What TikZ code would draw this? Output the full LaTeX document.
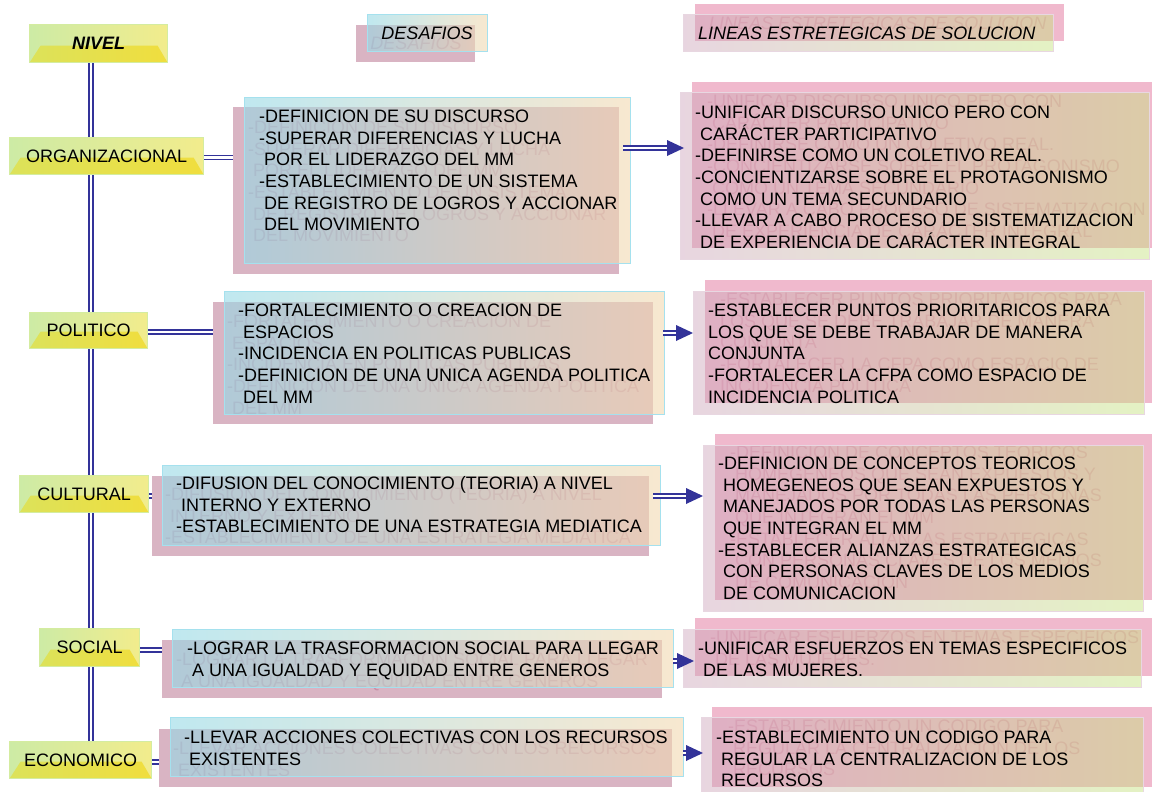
\documentclass[tikz,border=0pt]{standalone}
\usepackage{fontspec}
\setmainfont{Liberation Sans}
\usetikzlibrary{calc}
\definecolor{dblue}{RGB}{51,51,153}
\definecolor{mshadow}{RGB}{217,180,195}
\definecolor{mghost}{RGB}{200,145,168}
\definecolor{mfl}{RGB}{150,217,230}
\definecolor{mfr}{RGB}{243,217,177}
\definecolor{mborder}{RGB}{165,225,238}
\definecolor{rshadow}{RGB}{240,185,205}
\definecolor{rghost}{RGB}{228,155,182}
\definecolor{rfl}{RGB}{204,164,187}
\definecolor{rfr}{RGB}{196,227,124}
\definecolor{rborder}{RGB}{232,215,225}
\definecolor{lbl1}{RGB}{205,235,165}
\definecolor{lbl2}{RGB}{242,236,140}
\definecolor{lbt1}{RGB}{220,226,90}
\definecolor{lbt2}{RGB}{240,222,62}
\definecolor{lbborder}{RGB}{212,236,160}
\newcommand\myfs{\rule{0pt}{14pt}}
\newcommand\myin{\hspace*{5pt}}
\begin{document}
\begin{tikzpicture}[x=1pt,y=-1pt,
  dline/.style={draw=dblue, double=white, double distance=2.3pt, line width=1.6pt},
  ahead/.style={fill=dblue},
  lbl/.style={anchor=north west, inner sep=0pt, draw=lbborder, line width=1.2pt,
    left color=lbl1, right color=lbl2, font=\fontsize{18}{21.6}\selectfont,
    path picture={\shade[left color=lbt1,right color=lbt2]
      (path picture bounding box.south west) -- (path picture bounding box.south east)
      -- ([xshift=-10pt,yshift=17pt]path picture bounding box.south east)
      -- ([xshift=11pt,yshift=17pt]path picture bounding box.south west) -- cycle;}},
  mshad/.style={anchor=north west, inner sep=0pt, fill=mshadow},
  mfront/.style={anchor=north west, inner sep=0pt, left color=mfl, right color=mfr,
    fill opacity=0.6, draw=mborder, draw opacity=1, line width=1.3pt},
  rshad/.style={anchor=north west, inner sep=0pt, fill=rshadow},
  rfront/.style={anchor=north west, inner sep=0pt, left color=rfl, right color=rfr,
    fill opacity=0.45, draw=rborder, draw opacity=1, line width=1pt},
  mtxt/.style={anchor=north west, inner sep=0pt, align=left, font=\fontsize{18}{21.6}\selectfont},
  htxt/.style={anchor=base, inner sep=0pt, font=\fontsize{18}{21.6}\selectfont\itshape},
  ghostm/.style={text=mghost},
  ghostr/.style={text=rghost}
]
\fill[white] (0,0) rectangle (1152,792);
\useasboundingbox (0,0) rectangle (1152,792);

% ---------- spine ----------
\coordinate (sptop) at (91,62);
\coordinate (spbot) at (91,741);
\draw[dline] (sptop) -- (spbot);

% ---------- headers ----------
\node[mshad, minimum width=119pt, minimum height=37pt] (hds) at (356,25) {};
\node[htxt, ghostm] (hdg) at (416,50) {DESAFIOS};
\node[mfront, minimum width=120pt, minimum height=37pt] (hdf) at (367,14) {};
\node[htxt] (hdt) at (427,39.5) {DESAFIOS};

\node[rshad, minimum width=369pt, minimum height=37pt] (hls) at (695,4) {};
\node[htxt, ghostr, anchor=base west] (hlg) at (709,29.5) {LINEAS ESTRETEGICAS DE SOLUCION};
\node[rfront, minimum width=370pt, minimum height=37pt] (hlf) at (683,14) {};
\node[htxt, anchor=base west] (hlt) at (698,39.5) {LINEAS ESTRETEGICAS DE SOLUCION};

% ---------- label boxes ----------
\node[lbl, minimum width=138pt, minimum height=38pt, font=\fontsize{18}{21.6}\selectfont\bfseries\itshape] (lniv) at (29,24) {NIVEL};
\node[lbl, minimum width=194pt, minimum height=37pt] (lorg) at (9,137) {ORGANIZACIONAL};
\node[lbl, minimum width=118pt, minimum height=36pt] (lpol) at (29,312) {POLITICO};
\node[lbl, minimum width=129pt, minimum height=37pt] (lcul) at (19,475) {CULTURAL};
\node[lbl, minimum width=100pt, minimum height=38pt] (lsoc) at (39,628) {SOCIAL};
\node[lbl, minimum width=142pt, minimum height=37pt] (leco) at (9,741) {ECONOMICO};

% ---------- middle boxes ----------
\node[mshad, minimum width=386pt, minimum height=167pt] (msorg) at (233,107) {};
\node[mshad, minimum width=440pt, minimum height=122pt] (mspol) at (213,302) {};
\node[mshad, minimum width=497pt, minimum height=80pt] (mscul) at (152,476) {};
\node[mshad, minimum width=500pt, minimum height=58pt] (mssoc) at (162,640) {};
\node[mshad, minimum width=513pt, minimum height=58pt] (mseco) at (159,729) {};

\node[mtxt, ghostm] (mgorg) at (248,119.45) {\myfs-DEFINICION DE SU DISCURSO\\-SUPERAR DIFERENCIAS Y LUCHA\\\myin POR EL LIDERAZGO DEL MM\\-ESTABLECIMIENTO DE UN SISTEMA\\\myin DE REGISTRO DE LOGROS Y ACCIONAR\\\myin DEL MOVIMIENTO};
\node[mtxt, ghostm] (mgpol) at (227,313.45) {\myfs-FORTALECIMIENTO O CREACION DE\\\myin ESPACIOS\\-INCIDENCIA EN POLITICAS PUBLICAS\\-DEFINICION DE UNA UNICA AGENDA POLITICA\\\myin DEL MM};
\node[mtxt, ghostm] (mgcul) at (165,486.45) {\myfs-DIFUSION DEL CONOCIMIENTO (TEORIA) A NIVEL\\\myin INTERNO Y EXTERNO\\-ESTABLECIMIENTO DE UNA ESTRATEGIA MEDIATICA};
\node[mtxt, ghostm] (mgsoc) at (176,651.45) {\myfs-LOGRAR LA TRASFORMACION SOCIAL PARA LLEGAR\\\myin A UNA IGUALDAD Y EQUIDAD ENTRE GENEROS};
\node[mtxt, ghostm] (mgeco) at (173,740.45) {\myfs-LLEVAR ACCIONES COLECTIVAS CON LOS RECURSOS\\\myin EXISTENTES};

\node[mfront, minimum width=386pt, minimum height=166pt] (mforg) at (244,97) {};
\node[mfront, minimum width=440pt, minimum height=123pt] (mfpol) at (224,291) {};
\node[mfront, minimum width=498pt, minimum height=80pt] (mfcul) at (162,465) {};
\node[mfront, minimum width=501pt, minimum height=58pt] (mfsoc) at (172,629) {};
\node[mfront, minimum width=513pt, minimum height=59pt] (mfeco) at (170,717) {};

\node[mtxt] (mtorg) at (259,108.45) {\myfs-DEFINICION DE SU DISCURSO\\-SUPERAR DIFERENCIAS Y LUCHA\\\myin POR EL LIDERAZGO DEL MM\\-ESTABLECIMIENTO DE UN SISTEMA\\\myin DE REGISTRO DE LOGROS Y ACCIONAR\\\myin DEL MOVIMIENTO};
\node[mtxt] (mtpol) at (238,302.45) {\myfs-FORTALECIMIENTO O CREACION DE\\\myin ESPACIOS\\-INCIDENCIA EN POLITICAS PUBLICAS\\-DEFINICION DE UNA UNICA AGENDA POLITICA\\\myin DEL MM};
\node[mtxt] (mtcul) at (176,475.45) {\myfs-DIFUSION DEL CONOCIMIENTO (TEORIA) A NIVEL\\\myin INTERNO Y EXTERNO\\-ESTABLECIMIENTO DE UNA ESTRATEGIA MEDIATICA};
\node[mtxt] (mtsoc) at (187,640.45) {\myfs-LOGRAR LA TRASFORMACION SOCIAL PARA LLEGAR\\\myin A UNA IGUALDAD Y EQUIDAD ENTRE GENEROS};
\node[mtxt] (mteco) at (184,729.45) {\myfs-LLEVAR ACCIONES COLECTIVAS CON LOS RECURSOS\\\myin EXISTENTES};

% ---------- right boxes ----------
\node[rshad, minimum width=470pt, minimum height=166pt] (rsorg) at (692,82) {};
\node[rshad, minimum width=460pt, minimum height=123pt] (rspol) at (705,280) {};
\node[rshad, minimum width=450pt, minimum height=166pt] (rscul) at (715,434) {};
\node[rshad, minimum width=470pt, minimum height=58pt] (rssoc) at (695,618) {};
\node[rshad, minimum width=450pt, minimum height=80pt] (rseco) at (712,707) {};

\node[mtxt, ghostr] (rgorg) at (707,93.45) {\myfs-UNIFICAR DISCURSO UNICO PERO CON\\\myin CARÁCTER PARTICIPATIVO\\-DEFINIRSE COMO UN COLETIVO REAL.\\-CONCIENTIZARSE SOBRE EL PROTAGONISMO\\\myin COMO UN TEMA SECUNDARIO\\-LLEVAR A CABO PROCESO DE SISTEMATIZACION\\\myin DE EXPERIENCIA DE CARÁCTER INTEGRAL};
\node[mtxt, ghostr] (rgpol) at (720,291.45) {\myfs-ESTABLECER PUNTOS PRIORITARICOS PARA\\LOS QUE SE DEBE TRABAJAR DE MANERA\\CONJUNTA\\-FORTALECER LA CFPA COMO ESPACIO DE\\INCIDENCIA POLITICA};
\node[mtxt, ghostr] (rgcul) at (730,444.45) {\myfs-DEFINICION DE CONCEPTOS TEORICOS\\\myin HOMEGENEOS QUE SEAN EXPUESTOS Y\\\myin MANEJADOS POR TODAS LAS PERSONAS\\\myin QUE INTEGRAN EL MM\\-ESTABLECER ALIANZAS ESTRATEGICAS\\\myin CON PERSONAS CLAVES DE LOS MEDIOS\\\myin DE COMUNICACION};
\node[mtxt, ghostr] (rgsoc) at (710,629.45) {\myfs-UNIFICAR ESFUERZOS EN TEMAS ESPECIFICOS\\\myin DE LAS MUJERES.};
\node[mtxt, ghostr] (rgeco) at (728,718.45) {\myfs-ESTABLECIMIENTO UN CODIGO PARA\\\myin REGULAR LA CENTRALIZACION DE LOS\\\myin RECURSOS};

\node[rfront, minimum width=469pt, minimum height=167pt] (rforg) at (680,92) {};
\node[rfront, minimum width=451pt, minimum height=123pt] (rfpol) at (693,291) {};
\node[rfront, minimum width=440pt, minimum height=166pt] (rfcul) at (703,445) {};
\node[rfront, minimum width=458pt, minimum height=58pt] (rfsoc) at (683,629) {};
\node[rfront, minimum width=442pt, minimum height=80pt] (rfeco) at (701,717) {};

\node[mtxt] (rtorg) at (695,104.45) {\myfs-UNIFICAR DISCURSO UNICO PERO CON\\\myin CARÁCTER PARTICIPATIVO\\-DEFINIRSE COMO UN COLETIVO REAL.\\-CONCIENTIZARSE SOBRE EL PROTAGONISMO\\\myin COMO UN TEMA SECUNDARIO\\-LLEVAR A CABO PROCESO DE SISTEMATIZACION\\\myin DE EXPERIENCIA DE CARÁCTER INTEGRAL};
\node[mtxt] (rtpol) at (708,302.45) {\myfs-ESTABLECER PUNTOS PRIORITARICOS PARA\\LOS QUE SE DEBE TRABAJAR DE MANERA\\CONJUNTA\\-FORTALECER LA CFPA COMO ESPACIO DE\\INCIDENCIA POLITICA};
\node[mtxt] (rtcul) at (718,455.45) {\myfs-DEFINICION DE CONCEPTOS TEORICOS\\\myin HOMEGENEOS QUE SEAN EXPUESTOS Y\\\myin MANEJADOS POR TODAS LAS PERSONAS\\\myin QUE INTEGRAN EL MM\\-ESTABLECER ALIANZAS ESTRATEGICAS\\\myin CON PERSONAS CLAVES DE LOS MEDIOS\\\myin DE COMUNICACION};
\node[mtxt] (rtsoc) at (698,640.45) {\myfs-UNIFICAR ESFUERZOS EN TEMAS ESPECIFICOS\\\myin DE LAS MUJERES.};
\node[mtxt] (rteco) at (716,729.45) {\myfs-ESTABLECIMIENTO UN CODIGO PARA\\\myin REGULAR LA CENTRALIZACION DE LOS\\\myin RECURSOS};

% ---------- label connectors ----------
\draw[dline] (lorg.east |- 0,157.5) -- (msorg.west |- 0,157.5);
\draw[dline] (lpol.east |- 0,332) -- (mspol.west |- 0,332);
\draw[dline] (lcul.east |- 0,496) -- (mscul.west |- 0,496);
\draw[dline] (lsoc.east |- 0,650) -- (mssoc.west |- 0,650);
\draw[dline] (leco.east |- 0,762) -- (mseco.west |- 0,762);

% ---------- arrows ----------
\coordinate (a1s) at (623,148); \coordinate (a1t) at (684,148);
\coordinate (a2s) at (663,333); \coordinate (a2t) at (693,333);
\coordinate (a3s) at (653,496); \coordinate (a3t) at (703,496);
\coordinate (a4s) at (673,661); \coordinate (a4t) at (694,661);
\coordinate (a5s) at (683,753); \coordinate (a5t) at (703,753);
\foreach \s/\t in {a1s/a1t,a2s/a2t,a3s/a3t,a4s/a4t,a5s/a5t}{
  \draw[dline] (\s) -- ([xshift=-15pt]\t);
  \fill[ahead] (\t) -- ++(-17,-8) -- ++(0,16) -- cycle;
}
\end{tikzpicture}
\end{document}
